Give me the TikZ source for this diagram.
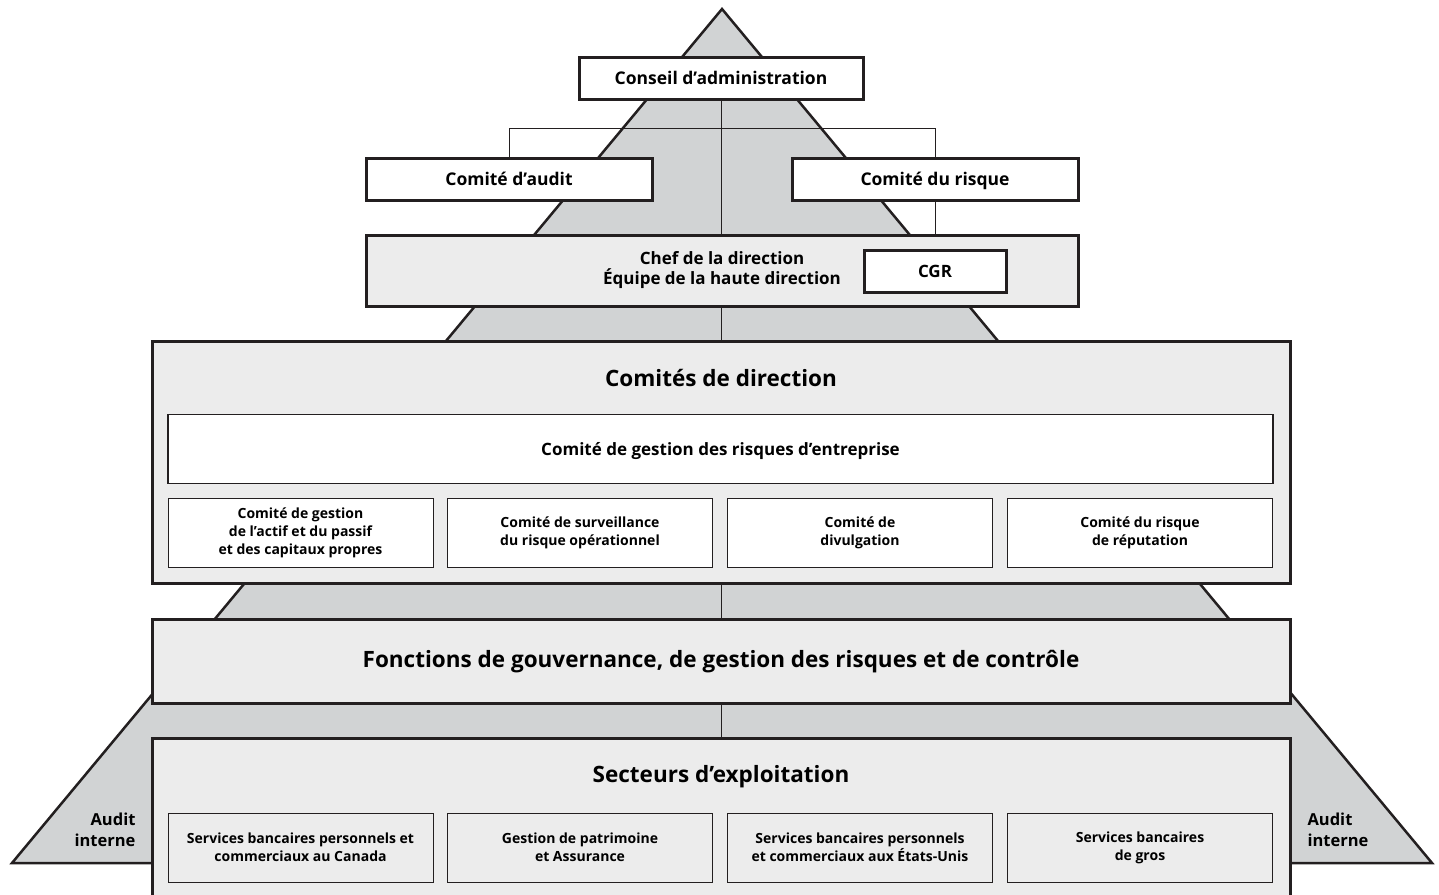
\documentclass[tikz,border=0pt]{standalone}
\usepackage{fontspec}
\setmainfont{Open Sans}
\usetikzlibrary{positioning}

\definecolor{pyrgray}{HTML}{D1D3D4}
\definecolor{palegray}{HTML}{ECECEC}
\definecolor{ink}{HTML}{231F20}

\pgfdeclarelayer{back}
\pgfdeclarelayer{mid}
\pgfsetlayers{back,mid,main}

\begin{document}
\begin{tikzpicture}[x=1pt, y=-1pt,
  topbox/.style={draw=ink, line width=3pt, fill=white, inner sep=0pt,
    minimum height=42pt, font=\fontsize{17.5}{20}\selectfont\bfseries},
  oneline/.style={text height=15pt, text depth=2.5pt},
  bigline/.style={text height=16.5pt, text depth=4.5pt},
  bigbox/.style={draw=ink, line width=3pt, fill=palegray, inner sep=0pt,
    minimum width=1138pt},
  subbox/.style={draw=ink, line width=1pt, fill=white, inner sep=0pt,
    minimum width=265pt, minimum height=69pt, align=center,
    font=\fontsize{14}{18}\selectfont\bfseries},
  opbox/.style={subbox, fill=palegray},
  title/.style={font=\fontsize{22.5}{26}\selectfont\bfseries},
  audit/.style={font=\fontsize{16.5}{21}\selectfont\bfseries},
  link/.style={draw=ink, line width=1pt}]
\clip (0,0) rectangle (1439,894);

% Top
\node[topbox, oneline, minimum width=284pt] (conseil) at (721,78.5) {Conseil d’administration};
\node[topbox, oneline, minimum width=286pt] (caudit) at (509,179) {Comité d’audit};
\node[topbox, oneline, minimum width=286pt] (crisque) at (935,179) {Comité du risque};
\node[topbox, minimum width=712pt, minimum height=71pt, fill=palegray, align=center,
  font=\fontsize{17}{20}\selectfont\bfseries]
  (chef) at (722,270.5) {Chef de la direction\\Équipe de la haute direction};
\node[topbox, oneline, minimum width=142pt, font=\fontsize{17}{20}\selectfont\bfseries]
  (cgr) at (935,271) {CGR};

% Comites de direction
\node[bigbox, minimum height=242pt] (direction) at (721,462) {};
\node[title, bigline] (dirtitle) at (721,380) {Comités de direction};
\node[subbox, oneline, minimum width=1105pt, line width=1.5pt, font=\fontsize{17}{20}\selectfont\bfseries]
  (cgre) at (720.5,449) {Comité de gestion des risques d’entreprise};
\node[subbox] (cgap) at (300.5,532.5) {Comité de gestion\\de l’actif et du passif\\et des capitaux propres};
\node[subbox] (csro) at (580,532.5) {Comité de surveillance\\du risque opérationnel};
\node[subbox] (cdiv) at (860,532.5) {Comité de\\divulgation};
\node[subbox] (crep) at (1140,532.5) {Comité du risque\\de réputation};

% Fonctions
\node[bigbox, bigline, minimum height=84pt, title] (fonctions) at (721,661)
  {Fonctions de gouvernance, de gestion des risques et de contrôle};

% Secteurs
\node[bigbox, minimum height=172pt] (secteurs) at (721,824) {};
\node[title, bigline] (sectitle) at (721,776) {Secteurs d’exploitation};
\node[opbox] (sbpc) at (300.5,847.5) {Services bancaires personnels et\\commerciaux au Canada};
\node[opbox] (gpa) at (580,847.5) {Gestion de patrimoine\\et Assurance};
\node[opbox] (sbpu) at (860,847.5) {Services bancaires personnels\\et commerciaux aux États-Unis};
\node[opbox] (sbg) at (1140,847.5) {Services bancaires\\de gros};

% Audit interne
\node[audit, anchor=east, align=right] (auditg) at (139,830) {Audit\\interne};
\node[audit, anchor=west, align=left] (auditd) at (1304,830) {Audit\\interne};

% Links
\begin{pgfonlayer}{mid}
\coordinate (bar) at (0,128);
\draw[link] (conseil.south) -- (secteurs.north);
\draw[link] (caudit.north) |- (bar -| cgr.north) -- (cgr.north);
\end{pgfonlayer}

% Pyramid
\begin{pgfonlayer}{back}
\draw[fill=pyrgray, draw=ink, line width=2.5pt, line join=miter]
  (722,9) -- (1432,863) -- (12,863) -- cycle;
\end{pgfonlayer}
\end{tikzpicture}
\end{document}
